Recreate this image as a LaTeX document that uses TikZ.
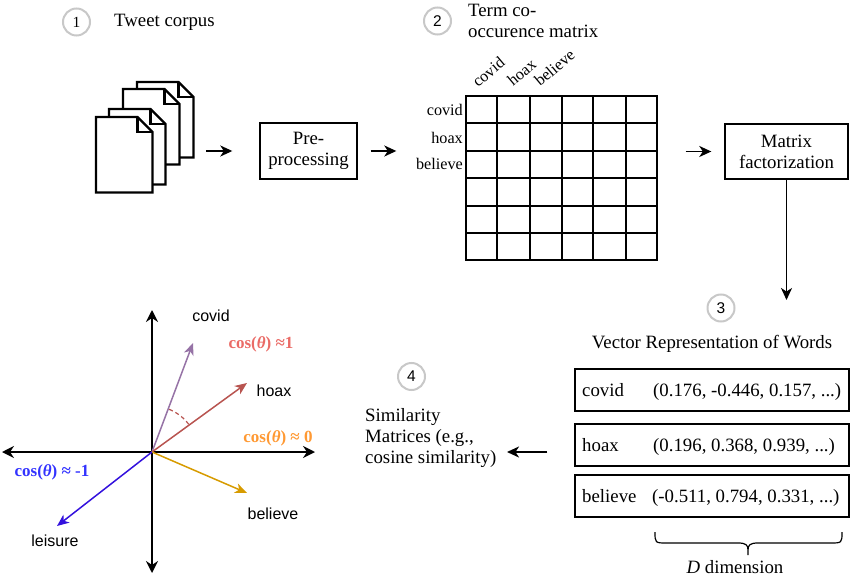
\documentclass[tikz,border=0pt]{standalone}
\usepackage{fontspec}
\setmainfont{Liberation Serif}
\newfontfamily\arialf{Liberation Sans}
\usetikzlibrary{arrows.meta}
\definecolor{circgray}{HTML}{C8C8C8}
\definecolor{covcol}{HTML}{9673A6}
\definecolor{hoaxcol}{HTML}{B85450}
\definecolor{cosone}{HTML}{EA6B66}
\definecolor{coszero}{HTML}{FF9933}
\definecolor{belcol}{HTML}{D79B00}
\definecolor{leicol}{HTML}{3311DD}
\definecolor{cosneg}{HTML}{3333FF}
\begin{document}
\begin{tikzpicture}[x=1pt,y=-1pt,
  txt/.style={font=\fontsize{18.8}{21}\selectfont, inner sep=0pt},
  numc/.style={circle, draw=circgray, line width=2pt, minimum size=27pt, inner sep=0pt, font=\arialf\fontsize{15.5}{15}\selectfont},
  box/.style={draw, line width=1.4pt, align=center, inner sep=0pt, font=\fontsize{18.8}{21}\selectfont},
  vbox/.style={draw, line width=1.4pt, inner sep=0pt, minimum width=274pt, minimum height=42pt},
  flow/.style={-{Stealth[length=12pt,width=11pt,inset=3.5pt]}, line width=1.7pt},
  page/.style={draw, fill=white, line width=2.4pt, line join=miter},
  gridl/.style={line width=1.4pt},
  axis/.style={{Stealth[length=12pt,width=12pt,inset=4pt]}-{Stealth[length=12pt,width=12pt,inset=4pt]}, line width=1.9pt},
  vec/.style={-{Stealth[length=12pt,width=10pt,inset=3.5pt]}, line width=1.5pt},
  plotlbl/.style={font=\arialf\fontsize{16}{16}\selectfont, inner sep=0pt},
  coslbl/.style={font=\bfseries\fontsize{17}{17}\selectfont, inner sep=0pt},
  mlabel/.style={font=\fontsize{16.2}{16}\selectfont, inner sep=0pt}
]
\useasboundingbox (0,0) rectangle (850,577);

% step 1
\node[numc, font=\fontsize{15.5}{15}\selectfont] (c1) at (76.5,22) {1};
\node[txt, anchor=base west] (tc) at (114,27) {Tweet corpus};
\foreach \x/\y in {137/82,123/89,109/109,96/117}{
  \draw[page] (\x,\y) -- ++(41.5,0) -- ++(15,15) -- ++(0,60.5) -- ++(-56.5,0) -- cycle;
  \draw[line width=2.4pt] (\x+41.5,\y) -- ++(0,15) -- ++(15,0);
}
\node[inner sep=0pt, minimum width=97pt, minimum height=111pt] (docs) at (144.5,137.5) {};
\node[box, minimum width=97pt, minimum height=56pt] (pre) at (308.5,151) {Pre-\\processing};
\draw[flow, shorten <=13pt, shorten >=27pt] (docs.east |- pre.west) -- (pre.west);

% step 2
\node[numc] (c2) at (437.5,21) {2};
\node[txt, align=left, anchor=west] (term) at (468,20.8) {Term co-\\occurence matrix};
\node[draw, line width=1.4pt, inner sep=0pt, minimum width=191pt, minimum height=164pt] (mat) at (561.5,178) {};
\foreach \c in {497,530,562,593,626} \draw[gridl] (\c,96) -- (\c,260);
\foreach \r in {123,151,178,206,233} \draw[gridl] (466,\r) -- (657,\r);
\node[mlabel, anchor=base east] (r1) at (463,116) {covid};
\node[mlabel, anchor=base east] (r2) at (463,143.3) {hoax};
\node[mlabel, anchor=base east] (r3) at (463,170) {believe};
\node[mlabel, rotate=40, anchor=base west] (k1) at (478,88) {covid};
\node[mlabel, rotate=40, anchor=base west] (k2) at (513,87) {hoax};
\node[mlabel, rotate=40, anchor=base west] (k3) at (540,87) {believe};
\draw[flow, shorten <=13pt, shorten >=69pt] (pre.east) -- (mat.west |- pre.east);

\node[box, minimum width=123pt, minimum height=55pt] (mf) at (786.5,151.5) {Matrix\\factorization};
\draw[flow, shorten <=28pt, shorten >=13pt] (mat.east |- mf.west) -- (mf.west);
\coordinate (vend) at (786.5,300);
\draw[flow] (mf.south) -- (vend);

% step 3
\node[numc] (c3) at (721,308) {3};
\node[txt, anchor=base] (vtitle) at (712,348) {Vector Representation of Words};
\node[vbox] (vb1) at (712,390) {};
\node[vbox] (vb2) at (712,445) {};
\node[vbox] (vb3) at (712,496) {};
\node[txt, anchor=base west] (w1) at (582,396.7) {covid};
\node[txt, anchor=base west] (w2) at (582,451.7) {hoax};
\node[txt, anchor=base west] (w3) at (582,502.3) {believe};
\node[txt, anchor=base west] (v1) at (653,396.7) {(0.176, -0.446, 0.157, ...)};
\node[txt, anchor=base west] (v2) at (653,451.7) {(0.196, 0.368, 0.939, ...)};
\node[txt, anchor=base west] (v3) at (652,502.3) {(-0.511, 0.794, 0.331, ...)};
\draw[line width=1.2pt] (655,532) .. controls (655,543) and (655,543) .. (667,543) -- (738,543)
  .. controls (746,543) and (748,545) .. (748,550) -- (748,555) -- (748,550)
  .. controls (748,545) and (750,543) .. (758,543) -- (830,543)
  .. controls (842,543) and (842,543) .. (842,532);
\node[txt, anchor=base] (dd) at (735,573) {\textit{D} dimension};

% step 4
\node[numc] (c4) at (411.5,376.5) {4};
\node[txt, align=left, anchor=west] (sim) at (365,438) {Similarity\\Matrices (e.g.,\\cosine similarity)};
\coordinate (a4e) at (507,452);
\draw[flow, shorten <=27pt] ([yshift=-7pt]vb2.west) -- (a4e);

% plot
\coordinate (O) at (152,452);
\coordinate (yt) at (152,310);
\coordinate (yb) at (152,573);
\coordinate (xl) at (2,452);
\coordinate (xr) at (315,452);
\draw[axis] (yb) -- (yt);
\draw[axis] (xl) -- (xr);
\coordinate (vc) at (193,343);
\coordinate (vh) at (247,383);
\coordinate (vbl) at (247,493);
\coordinate (vl) at (57,526);
\draw[vec, draw=covcol] (O) -- (vc);
\draw[vec, draw=hoaxcol] (O) -- (vh);
\draw[vec, draw=belcol] (O) -- (vbl);
\draw[vec, draw=leicol] (O) -- (vl);
\draw[hoaxcol, line width=1.2pt, dash pattern=on 4pt off 3pt] (O) ++(37:46pt) arc[start angle=37, end angle=71, radius=46pt];
\node[plotlbl] (lc) at (211,316) {covid};
\node[plotlbl] (lh) at (274,391) {hoax};
\node[plotlbl] (lb) at (273,514) {believe};
\node[plotlbl] (ll) at (55,541) {leisure};
\node[coslbl, text=cosone] (q1) at (261,344) {cos(\textit{θ}) ≈1};
\node[coslbl, text=coszero] (q0) at (278,438) {cos(\textit{θ}) ≈ 0};
\node[coslbl, text=cosneg] (qn) at (52,472) {cos(\textit{θ}) ≈ -1};
\end{tikzpicture}
\end{document}
